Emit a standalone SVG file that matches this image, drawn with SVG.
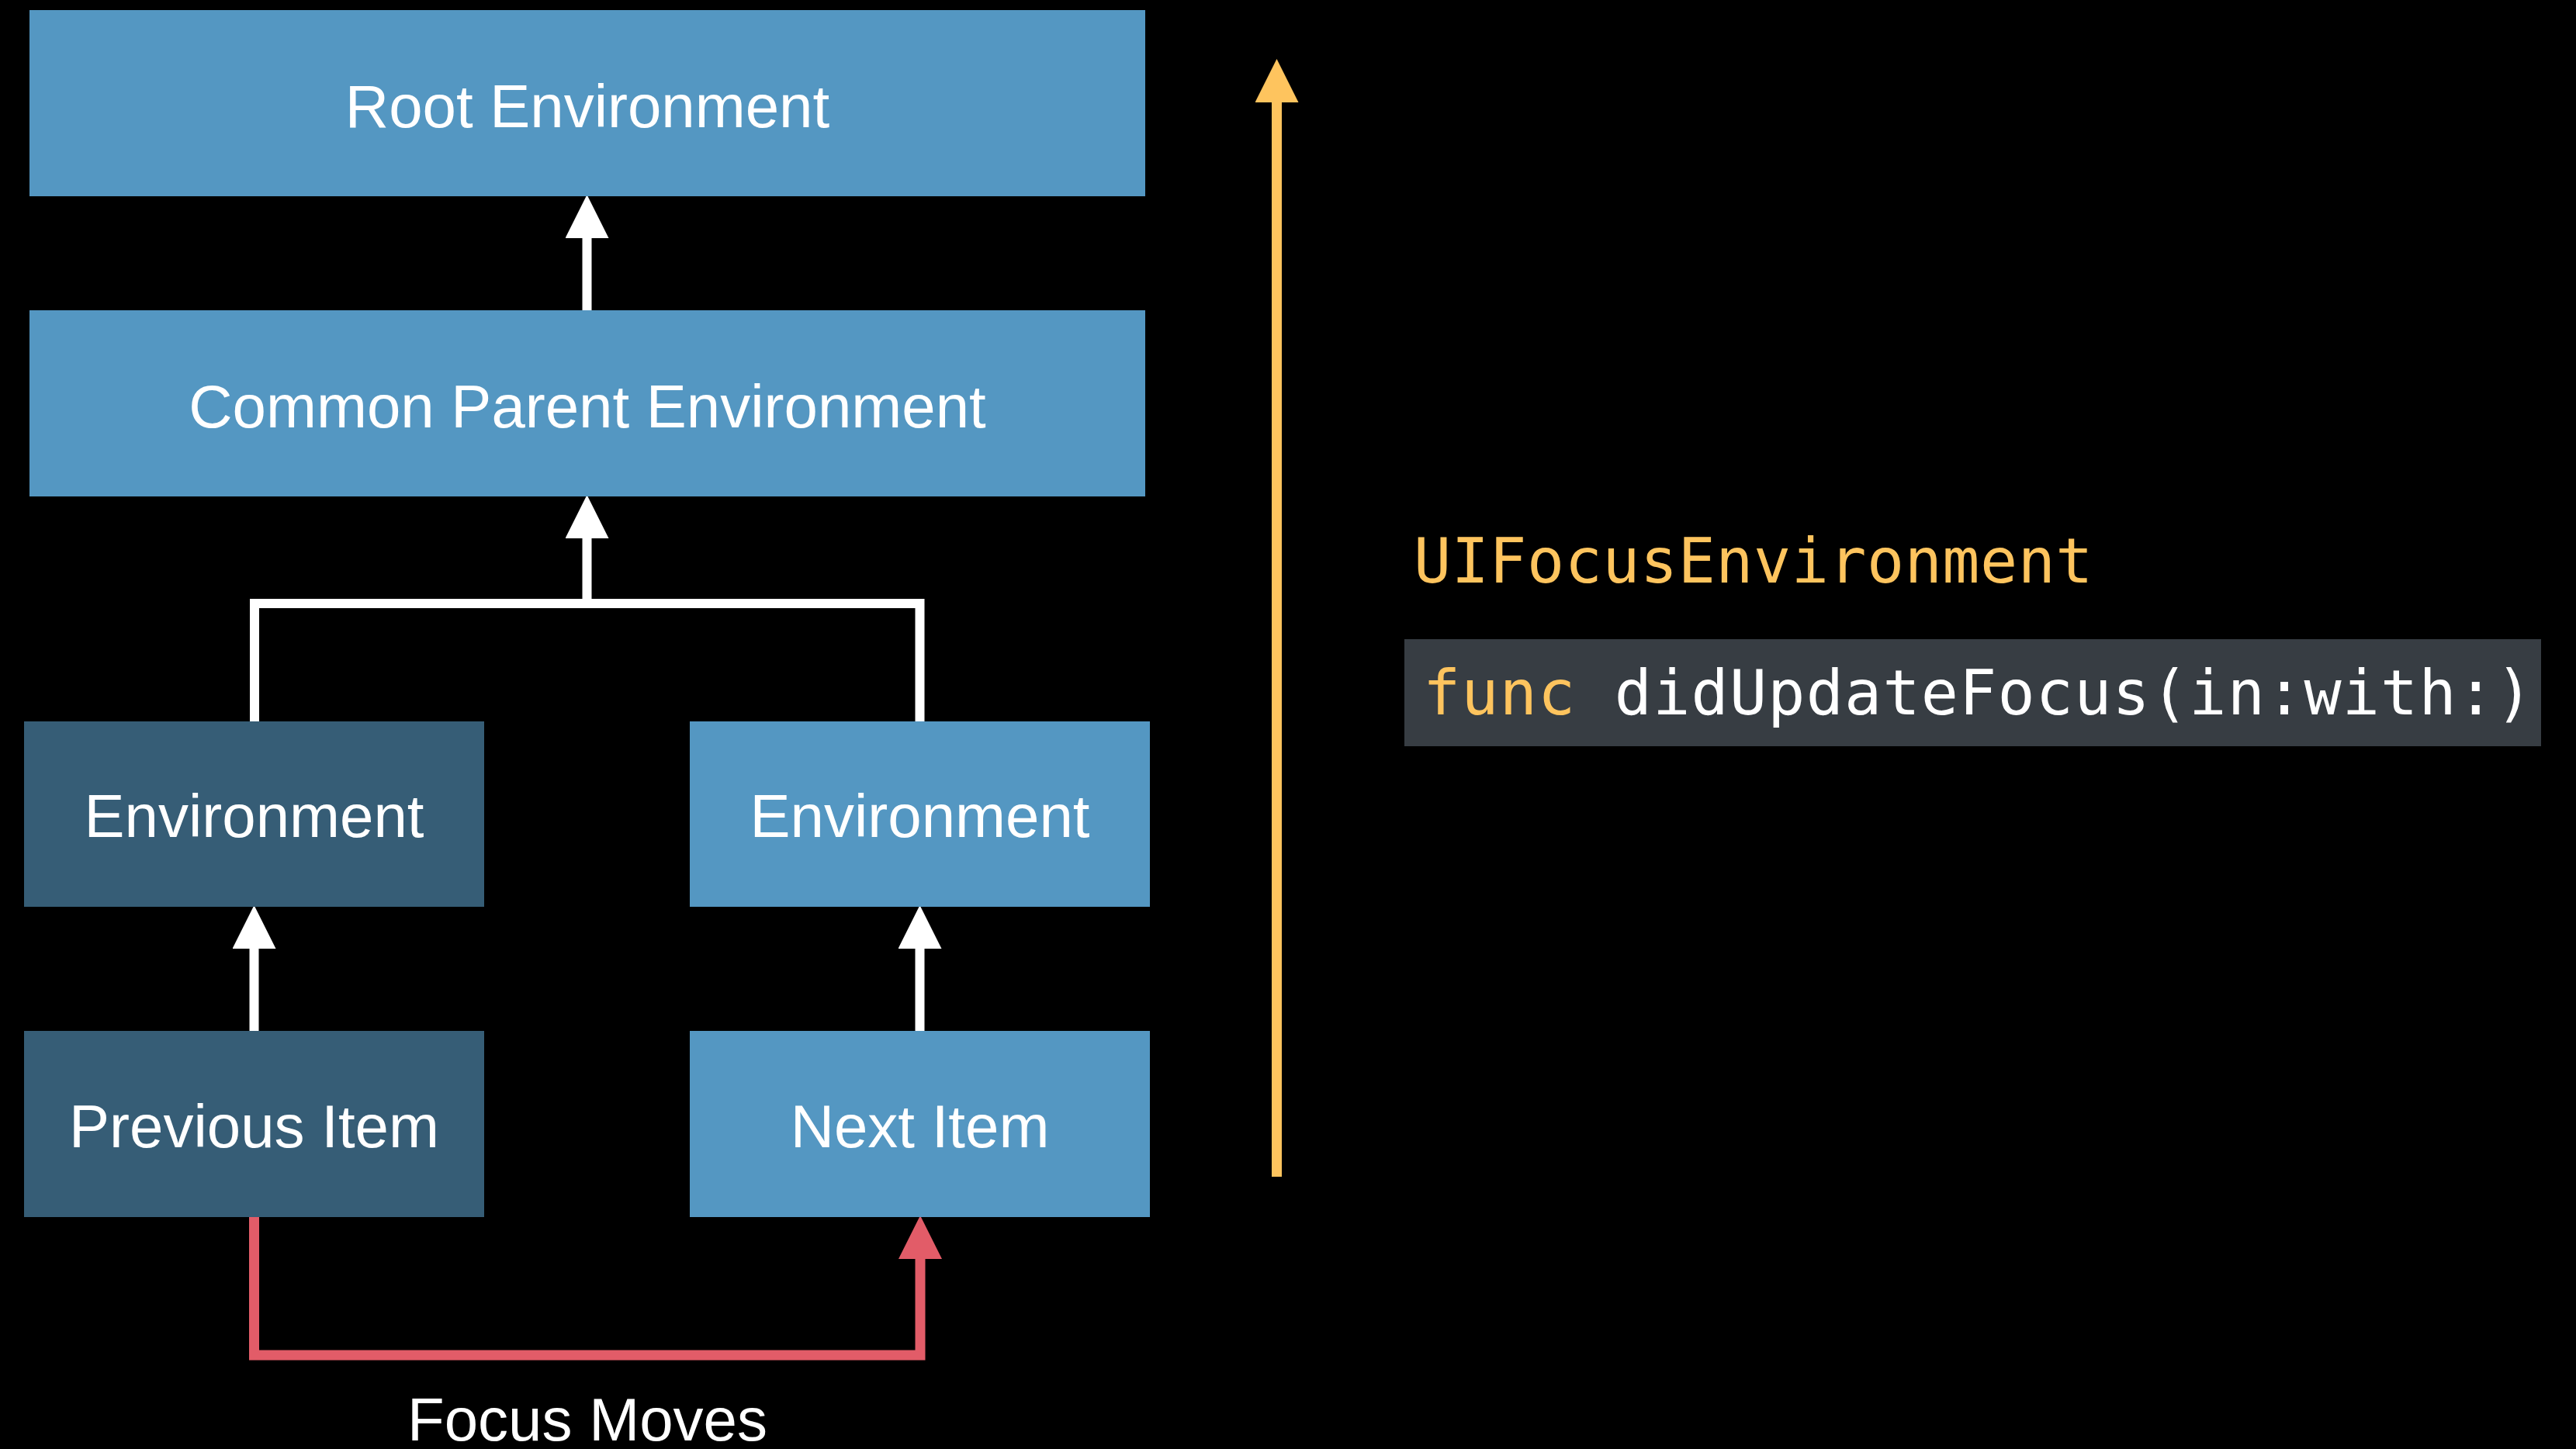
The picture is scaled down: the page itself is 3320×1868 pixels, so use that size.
<svg xmlns="http://www.w3.org/2000/svg" width="3320" height="1868" viewBox="0 0 3320 1868">
  <style>
    .light { fill: #5497C2; }
    .dark { fill: #365D76; }
    .label { font-family: "Liberation Sans", Arial, sans-serif; font-size: 78px; fill: #FFFFFF; text-anchor: middle; }
    .mono { font-family: "DejaVu Sans Mono", "Liberation Mono", monospace; font-size: 80px; }
    .kw { fill: #FEC45E; }
    .plain { fill: #FFFFFF; }
    .wire { fill: none; stroke-width: 12; stroke-linejoin: miter; stroke-linecap: butt; }
    .white { stroke: #FFFFFF; }
    .red { stroke: #E25C68; stroke-width: 13; }
    .orange { stroke: #FEC45E; stroke-width: 13; }
  </style>
  <defs>
    <!-- arrowheads: reference point sits at the base, tip extends 54px forward -->
    <marker id="headWhite" markerUnits="userSpaceOnUse" markerWidth="56" markerHeight="56" viewBox="0 0 54 54" refX="0" refY="27" orient="auto">
      <path d="M0,0 L54,27 L0,54 z" fill="#FFFFFF"/>
    </marker>
    <marker id="headRed" markerUnits="userSpaceOnUse" markerWidth="56" markerHeight="56" viewBox="0 0 54 54" refX="0" refY="27" orient="auto">
      <path d="M0,0 L54,27 L0,54 z" fill="#E25C68"/>
    </marker>
    <marker id="headOrange" markerUnits="userSpaceOnUse" markerWidth="56" markerHeight="56" viewBox="0 0 54 54" refX="0" refY="27" orient="auto">
      <path d="M0,0 L54,27 L0,54 z" fill="#FEC45E"/>
    </marker>
  </defs>

  <rect x="0" y="0" width="3320" height="1868" fill="#000000"/>

  <g id="connectors">
    <path class="wire white" d="M756.5,400 V307" marker-end="url(#headWhite)"/>
    <path class="wire white" d="M328,930 V778 H1185.5 V930"/>
    <path class="wire white" d="M756.5,778 V694" marker-end="url(#headWhite)"/>
    <path class="wire white" d="M327.5,1329 V1223" marker-end="url(#headWhite)"/>
    <path class="wire white" d="M1185.5,1329 V1223" marker-end="url(#headWhite)"/>
    <path class="wire red" d="M327.5,1569 V1747 H1186 V1623" marker-end="url(#headRed)"/>
    <path class="wire orange" d="M1645.5,1517 V132" marker-end="url(#headOrange)"/>
  </g>

  <g id="root-environment">
    <rect class="light" x="38" y="13" width="1438" height="240"/>
    <text class="label" x="757" y="164">Root Environment</text>
  </g>

  <g id="common-parent-environment">
    <rect class="light" x="38" y="400" width="1438" height="240"/>
    <text class="label" x="757" y="551">Common Parent Environment</text>
  </g>

  <g id="environment-left">
    <rect class="dark" x="31" y="930" width="593" height="239"/>
    <text class="label" x="327.5" y="1079">Environment</text>
  </g>

  <g id="environment-right">
    <rect class="light" x="889" y="930" width="593" height="239"/>
    <text class="label" x="1185.5" y="1079">Environment</text>
  </g>

  <g id="previous-item">
    <rect class="dark" x="31" y="1329" width="593" height="240"/>
    <text class="label" x="327.5" y="1479">Previous Item</text>
  </g>

  <g id="next-item">
    <rect class="light" x="889" y="1329" width="593" height="240"/>
    <text class="label" x="1185.5" y="1479">Next Item</text>
  </g>

  <g id="focus-moves-label">
    <text class="label" x="757" y="1857">Focus Moves</text>
  </g>

  <g id="protocol-name">
    <text class="mono kw" x="1822" y="751" letter-spacing="0.5">UIFocusEnvironment</text>
  </g>

  <g id="method-signature">
    <rect x="1810" y="824" width="1465" height="138" fill="#373D43"/>
    <text class="mono" x="1834" y="921" letter-spacing="1.2"><tspan class="kw">func</tspan><tspan class="plain"> didUpdateFocus(in:with:)</tspan></text>
  </g>
</svg>
